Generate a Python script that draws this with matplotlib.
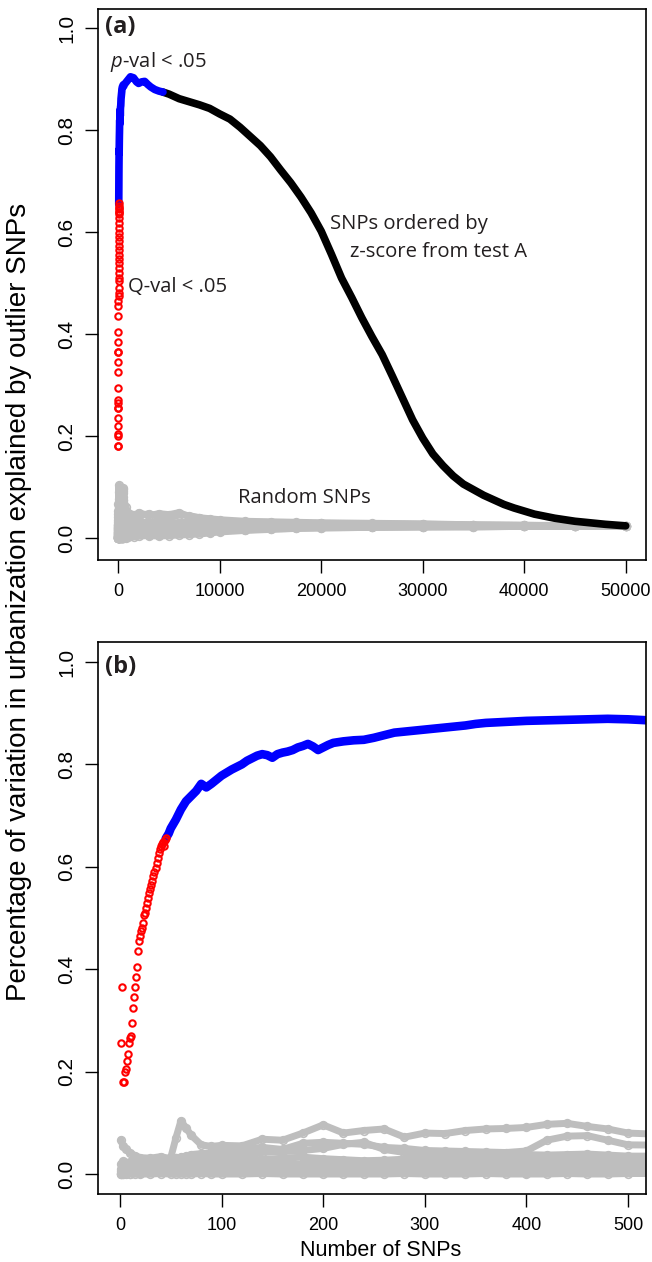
import numpy as np
import matplotlib
matplotlib.use('Agg')
import matplotlib.pyplot as plt

plt.rcParams['font.family'] = ['Liberation Sans', 'DejaVu Sans']
plt.rcParams['mathtext.fontset'] = 'custom'
plt.rcParams['mathtext.it'] = 'Open Sans:italic'
plt.rcParams['mathtext.rm'] = 'Open Sans'

# --- outlier SNPs, cumulative variance explained -----------------------
# Q-val < .05 (red), one value per SNP
RED_N = list(range(1, 46))
RED_V = [0.255, 0.365, 0.180, 0.180, 0.200, 0.205, 0.220, 0.235, 0.255, 0.265,
         0.270, 0.295, 0.325, 0.345, 0.365, 0.385, 0.405, 0.435, 0.455, 0.465,
         0.475, 0.480, 0.490, 0.505, 0.510, 0.520, 0.530, 0.540, 0.548, 0.556,
         0.565, 0.573, 0.582, 0.590, 0.598, 0.608, 0.618, 0.627, 0.635, 0.640,
         0.645, 0.648, 0.640, 0.652, 0.657]

# p-val < .05 (blue)
BLUE_N = [45, 48, 50, 55, 60, 65, 70, 75, 80, 85, 90, 95, 100, 105, 110, 115,
          120, 125, 130, 135, 140, 145, 150, 155, 160, 165, 170, 175, 180, 185,
          190, 195, 200, 205, 210, 220, 230, 240, 250, 260, 270, 280, 290, 300,
          310, 320, 330, 340, 350, 360, 370, 380, 390, 400, 420, 440, 460, 480,
          500, 520, 600, 800, 1000, 1200, 1500, 1800, 2000, 2300, 2600, 2900,
          3200, 3600, 4000, 4400]
BLUE_V = [0.655, 0.665, 0.675, 0.692, 0.712, 0.728, 0.738, 0.748, 0.762, 0.755,
          0.762, 0.770, 0.778, 0.784, 0.790, 0.795, 0.800, 0.807, 0.812, 0.817,
          0.820, 0.818, 0.813, 0.820, 0.823, 0.825, 0.828, 0.833, 0.836, 0.840,
          0.835, 0.828, 0.833, 0.838, 0.842, 0.845, 0.847, 0.848, 0.852, 0.857,
          0.862, 0.864, 0.866, 0.868, 0.870, 0.872, 0.874, 0.876, 0.879, 0.881,
          0.882, 0.883, 0.884, 0.885, 0.886, 0.887, 0.888, 0.889, 0.888, 0.886,
          0.890, 0.895, 0.900, 0.905, 0.903, 0.895, 0.892, 0.895, 0.896, 0.890,
          0.885, 0.880, 0.877, 0.875]

# remaining SNPs ordered by z-score (black)
BLACK_N = [4400, 5000, 6000, 7000, 8000, 9000, 10000, 11000, 12000, 13000,
           14000, 15000, 16000, 17000, 18000, 19000, 20000, 21000, 22000, 23000,
           24000, 25000, 26000, 27000, 28000, 29000, 30000, 31000, 32000, 33000,
           34000, 35000, 36000, 37000, 38000, 39000, 40000, 41000, 42000, 43000,
           44000, 45000, 46000, 47000, 48000, 49000, 50000]
BLACK_V = [0.875, 0.871, 0.862, 0.856, 0.850, 0.843, 0.832, 0.822, 0.806, 0.788,
           0.770, 0.748, 0.722, 0.697, 0.669, 0.638, 0.602, 0.557, 0.510, 0.472,
           0.432, 0.395, 0.360, 0.318, 0.275, 0.232, 0.196, 0.165, 0.142, 0.122,
           0.106, 0.095, 0.084, 0.075, 0.066, 0.059, 0.053, 0.047, 0.043, 0.039,
           0.036, 0.033, 0.031, 0.029, 0.027, 0.0255, 0.024]

# random SNP replicates (grey)
RAND_N = [1, 3, 6, 10, 15, 20, 30, 40, 50, 55, 60, 65, 70, 80, 90, 100, 120,
          140, 160, 180, 200, 220, 240, 260, 280, 300, 320, 340, 360, 380, 400,
          420, 440, 460, 480, 500,
          750, 1000, 1500, 2000, 3000, 4000, 5000, 6000, 7000, 8000, 9000, 10000,
          12500, 15000, 17500, 20000, 25000, 30000, 35000, 40000, 45000, 50000]
RAND_1 = [0.010, 0.012, 0.015, 0.018, 0.020, 0.022, 0.025, 0.028, 0.032, 0.070,
          0.104, 0.090, 0.076, 0.057, 0.054, 0.056, 0.055, 0.068, 0.066, 0.080,
          0.096, 0.080, 0.085, 0.088, 0.072, 0.080, 0.079, 0.085, 0.088, 0.089,
          0.091, 0.097, 0.099, 0.093, 0.088, 0.080,
          0.060, 0.048, 0.042, 0.050, 0.044, 0.048, 0.046, 0.050, 0.042, 0.040,
          0.038, 0.036, 0.033, 0.032, 0.031, 0.030, 0.029, 0.028, 0.026, 0.025,
          0.025, 0.024]
RAND_2 = [0.067, 0.054, 0.048, 0.041, 0.036, 0.032, 0.031, 0.034, 0.030, 0.031,
          0.033, 0.035, 0.038, 0.040, 0.042, 0.045, 0.049, 0.052, 0.048, 0.060,
          0.062, 0.060, 0.058, 0.052, 0.050, 0.046, 0.045, 0.044, 0.043, 0.042,
          0.045, 0.066, 0.074, 0.075, 0.066, 0.057,
          0.052, 0.050, 0.046, 0.043, 0.048, 0.042, 0.040, 0.046, 0.044, 0.040,
          0.036, 0.033, 0.031, 0.030, 0.029, 0.029, 0.028, 0.027, 0.026, 0.025,
          0.024, 0.024]
RAND_3 = [0.020, 0.025, 0.022, 0.024, 0.026, 0.028, 0.025, 0.027, 0.030, 0.031,
          0.032, 0.031, 0.030, 0.034, 0.038, 0.036, 0.040, 0.042, 0.044, 0.046,
          0.050, 0.058, 0.062, 0.048, 0.042, 0.040, 0.039, 0.038, 0.040, 0.040,
          0.038, 0.037, 0.038, 0.039, 0.037, 0.035,
          0.035, 0.033, 0.030, 0.032, 0.030, 0.033, 0.031, 0.030, 0.032, 0.031,
          0.030, 0.029, 0.029, 0.028, 0.028, 0.027, 0.027, 0.026, 0.025, 0.025,
          0.024, 0.024]
RAND_4 = [0.005, 0.008, 0.012, 0.015, 0.014, 0.017, 0.020, 0.018, 0.022, 0.023,
          0.024, 0.025, 0.026, 0.028, 0.025, 0.027, 0.030, 0.028, 0.031, 0.033,
          0.030, 0.028, 0.026, 0.027, 0.029, 0.030, 0.031, 0.030, 0.028, 0.027,
          0.028, 0.030, 0.031, 0.030, 0.031, 0.030,
          0.028, 0.025, 0.026, 0.024, 0.025, 0.026, 0.027, 0.026, 0.025, 0.026,
          0.027, 0.026, 0.026, 0.025, 0.025, 0.025, 0.025, 0.025, 0.024, 0.024,
          0.024, 0.024]
RAND_5 = [0.002, 0.004, 0.006, 0.008, 0.010, 0.012, 0.015, 0.013, 0.016, 0.017,
          0.018, 0.017, 0.016, 0.014, 0.017, 0.020, 0.018, 0.022, 0.020, 0.019,
          0.021, 0.020, 0.022, 0.021, 0.020, 0.022, 0.024, 0.023, 0.021, 0.020,
          0.019, 0.020, 0.021, 0.022, 0.021, 0.020,
          0.018, 0.020, 0.019, 0.021, 0.020, 0.019, 0.021, 0.022, 0.021, 0.022,
          0.021, 0.022, 0.022, 0.023, 0.022, 0.023, 0.023, 0.023, 0.024, 0.024,
          0.024, 0.024]
RAND_6 = [0.000, 0.002, 0.004, 0.006, 0.005, 0.008, 0.010, 0.008, 0.012, 0.011,
          0.010, 0.010, 0.009, 0.011, 0.013, 0.012, 0.010, 0.014, 0.012, 0.013,
          0.011, 0.012, 0.013, 0.012, 0.014, 0.013, 0.012, 0.011, 0.012, 0.013,
          0.012, 0.011, 0.010, 0.012, 0.013, 0.012,
          0.010, 0.012, 0.011, 0.010, 0.012, 0.013, 0.012, 0.014, 0.015, 0.014,
          0.016, 0.017, 0.019, 0.020, 0.021, 0.021, 0.022, 0.022, 0.023, 0.023,
          0.024, 0.024]
RAND_7 = [0.001, 0.000, 0.002, 0.001, 0.003, 0.002, 0.004, 0.003, 0.005, 0.004,
          0.004, 0.005, 0.006, 0.005, 0.004, 0.006, 0.005, 0.004, 0.006, 0.005,
          0.004, 0.006, 0.005, 0.004, 0.005, 0.006, 0.005, 0.004, 0.003, 0.004,
          0.002, 0.003, 0.004, 0.003, 0.004, 0.005,
          0.005, 0.006, 0.007, 0.008, 0.007, 0.006, 0.008, 0.009, 0.010, 0.011,
          0.012, 0.014, 0.016, 0.018, 0.019, 0.020, 0.021, 0.022, 0.022, 0.023,
          0.023, 0.024]
RAND_8 = [0.000, 0.000, 0.000, 0.001, 0.000, 0.000, 0.000, 0.001, 0.000, 0.000,
          0.000, 0.000, 0.000, 0.001, 0.000, 0.000, 0.000, 0.001, 0.000, 0.000,
          0.000, 0.000, 0.000, 0.000, 0.001, 0.000, 0.000, 0.000, 0.001, 0.000,
          0.000, 0.000, 0.001, 0.000, 0.000, 0.001,
          0.001, 0.002, 0.003, 0.004, 0.005, 0.004, 0.005, 0.006, 0.007, 0.008,
          0.010, 0.012, 0.015, 0.017, 0.019, 0.020, 0.021, 0.022, 0.022, 0.023,
          0.023, 0.024]
RANDOM_REPS = [RAND_1, RAND_2, RAND_3, RAND_4, RAND_5, RAND_6, RAND_7, RAND_8]

GREY = '#BEBEBE'
YTICKS = [0.0, 0.2, 0.4, 0.6, 0.8, 1.0]
TXT = '#231F20'


def draw_panel(ax, lw_grey, lw_curve):
    for rep in RANDOM_REPS:
        ax.plot(RAND_N, rep, color=GREY, lw=lw_grey, solid_capstyle='round',
                solid_joinstyle='round', marker='o', ms=5.5, mfc='none',
                mec=GREY, mew=1.2)
    ax.plot(BLACK_N, BLACK_V, color='black', lw=lw_curve,
            solid_capstyle='round', solid_joinstyle='round')
    ax.plot(BLUE_N, BLUE_V, color='#0000FF', lw=lw_curve,
            solid_capstyle='round', solid_joinstyle='round')
    ax.plot(RED_N, RED_V, ls='none', marker='o', ms=4.6, mfc='none',
            mec='#FF0000', mew=1.5)


def style_axes(ax, xticks):
    ax.set_xticks(xticks)
    ax.set_xticklabels([str(t) for t in xticks], fontsize=13)
    ax.set_yticks(YTICKS)
    ax.set_yticklabels([f'{t:.1f}' for t in YTICKS], fontsize=15,
                       rotation=90, va='center')
    ax.tick_params(axis='x', direction='out', length=9.5, width=1, pad=7)
    ax.tick_params(axis='y', direction='out', length=9.5, width=1, pad=6)
    for s in ax.spines.values():
        s.set_linewidth(1.2)


fig = plt.figure(figsize=(6.52, 12.62), dpi=100)
ax_a = fig.add_axes([98 / 652, 1 - 560 / 1262, 548 / 652, 551 / 1262])
ax_b = fig.add_axes([98 / 652, 1 - 1194 / 1262, 548 / 652, 552 / 1262])

# panel (a): all 50000 SNPs
draw_panel(ax_a, 5, 5.5)
ax_a.set_xlim(-2000, 52000)
ax_a.set_ylim(-0.043, 1.038)
style_axes(ax_a, [0, 10000, 20000, 30000, 40000, 50000])

note = dict(family='Open Sans', fontsize=14.6, color=TXT)
ax_a.text(-1350, 1.003, '(a)', ha='left', va='center', family='Open Sans',
          fontweight='bold', fontsize=17, color=TXT)
ax_a.text(-790, 0.934, r'$p$-val < .05', ha='left', va='center', **note)
ax_a.text(985, 0.4926, 'Q-val < .05', ha='left', va='center', **note)
ax_a.text(20900, 0.616, 'SNPs ordered by', ha='left', va='center', **note)
ax_a.text(22860, 0.561, 'z-score from test A', ha='left', va='center', **note)
ax_a.text(11820, 0.0785, 'Random SNPs', ha='left', va='center', **note)

# panel (b): first 500 SNPs
draw_panel(ax_b, 5, 6.2)
ax_b.set_xlim(-21.6, 517.7)
ax_b.set_ylim(-0.039, 1.039)
style_axes(ax_b, [0, 100, 200, 300, 400, 500])
ax_b.text(-14.8, 0.99, '(b)', ha='left', va='center', family='Open Sans',
          fontweight='bold', fontsize=17, color=TXT)

fig.text(381 / 652, 1 - 1250 / 1262, 'Number of SNPs', ha='center',
         va='center', fontsize=15.5)
fig.text(19 / 652, 1 - 602 / 1262,
         'Percentage of variation in urbanization explained by outlier SNPs',
         rotation=90, ha='center', va='center', fontsize=20)

fig.savefig('out.png', dpi=100)
